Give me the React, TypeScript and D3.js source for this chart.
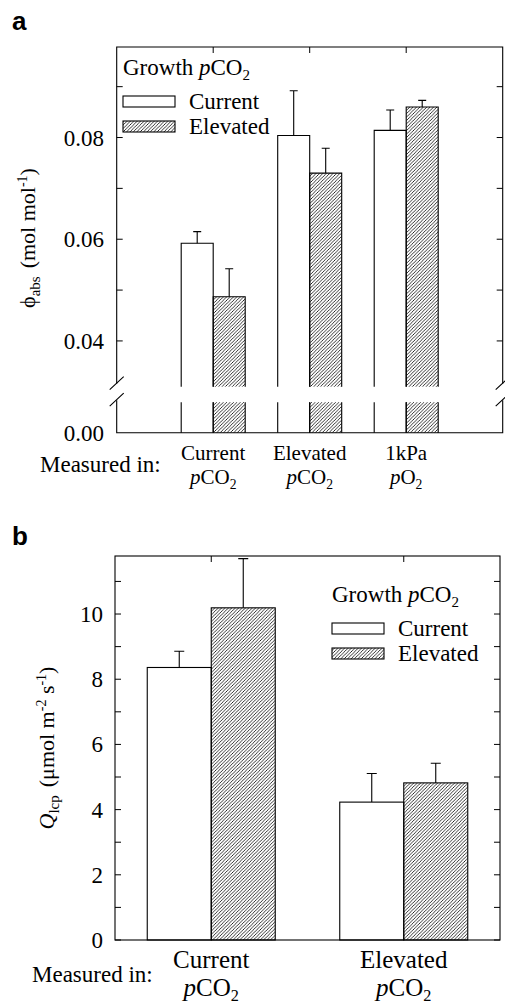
import React from "react";
import * as d3 from "d3";

// ---------- data ----------
const seriesNames = ["Current", "Elevated"];
const catLine1A = ["Current", "Elevated", "1kPa"];
const catGasA = ["CO", "CO", "O"];
const currentA = [0.0592, 0.0804, 0.0814];
const currentErrA = [0.0023, 0.0088, 0.004];
const elevatedA = [0.0487, 0.073, 0.086];
const elevatedErrA = [0.0055, 0.0049, 0.0013];
const ticksA = [0.04, 0.06, 0.08];
const minorTicksA = [0.05, 0.07, 0.09];

const catLine1B = ["Current", "Elevated"];
const catGasB = ["CO", "CO"];
const currentB = [8.36, 4.23];
const currentErrB = [0.5, 0.88];
const elevatedB = [10.19, 4.82];
const elevatedErrB = [1.51, 0.6];
const ticksB = [0, 2, 4, 6, 8, 10];
const minorTicksB = [1, 3, 5, 7, 9, 11];

const SERIF = "'Liberation Serif', 'Times New Roman', serif";
const SANS = "'Liberation Sans', Arial, sans-serif";

function Gas({ gas, x, y, size }: { gas: string; x: number; y: number; size: number }) {
  return (
    <text x={x} y={y} textAnchor="middle" fontSize={size} fontFamily={SERIF}>
      <tspan fontStyle="italic">p</tspan>
      <tspan>{gas}</tspan>
      <tspan dy={5} fontSize={size * 0.65}>2</tspan>
    </text>
  );
}

function Legend({ x, y }: { x: number; y: number }) {
  // y = baseline of title
  return (
    <g>
      <text x={x} y={y} fontSize={23} fontFamily={SERIF}>
        <tspan>Growth </tspan>
        <tspan fontStyle="italic">p</tspan>
        <tspan>CO</tspan>
        <tspan dy={5} fontSize={15}>2</tspan>
      </text>
      <rect x={x} y={y + 21} width={52} height={11} fill="white" stroke="black" strokeWidth={1.1} />
      <text x={x + 66} y={y + 34} fontSize={23} fontFamily={SERIF}>{seriesNames[0]}</text>
      <rect x={x} y={y + 46} width={52} height={11} fill="url(#hatch)" stroke="black" strokeWidth={1.1} />
      <text x={x + 66} y={y + 59} fontSize={23} fontFamily={SERIF}>{seriesNames[1]}</text>
    </g>
  );
}

function PanelA() {
  const left = 116.7, right = 502.7, top = 47, bottom = 432.7;
  const breakTop = 386.7, breakBot = 402.2;
  const x = d3.scaleLinear().domain([0, 4]).range([left, right]);
  const yU = d3.scaleLinear().domain([0.031, 0.0978]).range([breakTop, top]);
  const yL = d3.scaleLinear().domain([0, 0.006]).range([bottom, breakBot]);
  const bw = 32;
  const tick = 6;
  const bars: any[] = [];
  catLine1A.forEach((_, i) => {
    const c = x(i + 1);
    [
      { v: currentA[i], e: currentErrA[i], x0: c - bw, fill: "white" },
      { v: elevatedA[i], e: elevatedErrA[i], x0: c, fill: "url(#hatch)" },
    ].forEach((b, j) => {
      const yt = yU(b.v);
      const ye = yU(b.v + b.e);
      const cx = b.x0 + bw / 2;
      bars.push(
        <g key={`${i}-${j}`}>
          <rect x={b.x0} y={yt} width={bw} height={breakTop - yt} fill={b.fill} stroke="none" />
          <path d={`M${b.x0},${breakTop}V${yt}H${b.x0 + bw}V${breakTop}`} fill="none" stroke="black" strokeWidth={1.1} />
          <rect x={b.x0} y={breakBot} width={bw} height={bottom - breakBot} fill={b.fill} stroke="none" />
          <path d={`M${b.x0},${breakBot}V${bottom}M${b.x0 + bw},${breakBot}V${bottom}`} fill="none" stroke="black" strokeWidth={1.1} />
          <path d={`M${cx},${yt}V${ye}M${cx - 4},${ye}H${cx + 4}`} stroke="black" strokeWidth={1.1} />
        </g>
      );
    });
  });
  const slash = (ax: number, ay: number) => `M${ax - 7},${ay + 6}L${ax + 7},${ay - 7}`;
  return (
    <g>
      <text x={12} y={30} fontFamily={SANS} fontWeight="bold" fontSize={26}>a</text>
      {bars}
      {/* frame */}
      <path d={`M${left},${breakTop - 3}V${top}H${right}V${breakTop - 3}`} fill="none" stroke="black" strokeWidth={1.1} />
      <path d={`M${left},${breakBot - 2}V${bottom}H${right}V${breakBot - 2}`} fill="none" stroke="black" strokeWidth={1.1} />
      <path d={slash(left, breakTop - 3) + slash(left, breakBot - 2) + slash(right, breakTop - 3) + slash(right, breakBot - 2)} stroke="black" strokeWidth={1.1} fill="none" />
      {/* ticks */}
      {[...ticksA, ...minorTicksA].map((t) => (
        <path key={t} d={`M${left},${yU(t)}h${tick}M${right},${yU(t)}h${-tick}`} stroke="black" strokeWidth={1} />
      ))}
      {catLine1A.map((_, i) => (
        <path key={i} d={`M${x(i + 1)},${top}v${tick}`} stroke="black" strokeWidth={1} />
      ))}
      {ticksA.map((t) => (
        <text key={t} x={104} y={yU(t) + 8} textAnchor="end" fontSize={23} fontFamily={SERIF}>{t.toFixed(2)}</text>
      ))}
      <text x={104} y={yL(0) + 8} textAnchor="end" fontSize={23} fontFamily={SERIF}>0.00</text>
      {/* y label */}
      <text transform={`translate(35,238) rotate(-90)`} textAnchor="middle" fontSize={22} fontFamily={SERIF}>
        <tspan>ϕ</tspan>
        <tspan dy={5} fontSize={15}>abs</tspan>
        <tspan dy={-5} dx={8}>(mol mol</tspan>
        <tspan dy={-8} fontSize={14}>-1</tspan>
        <tspan dy={8}>)</tspan>
      </text>
      {/* x labels */}
      <text x={40} y={472} fontSize={23} fontFamily={SERIF}>Measured in:</text>
      {catLine1A.map((c, i) => (
        <text key={c} x={x(i + 1)} y={460} textAnchor="middle" fontSize={21} fontFamily={SERIF}>{c}</text>
      ))}
      {catGasA.map((g, i) => (
        <Gas key={i} gas={g} x={x(i + 1)} y={484} size={21} />
      ))}
      <Legend x={123} y={75} />
    </g>
  );
}

function PanelB() {
  const left = 115, right = 500, top = 556, bottom = 940;
  const x = d3.scaleLinear().domain([0, 4]).range([left, right]);
  const y = d3.scaleLinear().domain([0, 11.78]).range([bottom, top]);
  const bw = 64;
  const tick = 6;
  const bars: any[] = [];
  catLine1B.forEach((_, i) => {
    const c = x(2 * i + 1);
    [
      { v: currentB[i], e: currentErrB[i], x0: c - bw, fill: "white" },
      { v: elevatedB[i], e: elevatedErrB[i], x0: c, fill: "url(#hatch)" },
    ].forEach((b, j) => {
      const yt = y(b.v);
      const ye = y(b.v + b.e);
      const cx = b.x0 + bw / 2;
      bars.push(
        <g key={`${i}-${j}`}>
          <rect x={b.x0} y={yt} width={bw} height={bottom - yt} fill={b.fill} stroke="black" strokeWidth={1.1} />
          <path d={`M${cx},${yt}V${ye}M${cx - 5},${ye}H${cx + 5}`} stroke="black" strokeWidth={1.1} />
        </g>
      );
    });
  });
  return (
    <g>
      <text x={12} y={545} fontFamily={SANS} fontWeight="bold" fontSize={26}>b</text>
      {bars}
      <rect x={left} y={top} width={right - left} height={bottom - top} fill="none" stroke="black" strokeWidth={1.1} />
      {[...ticksB, ...minorTicksB].map((t) => (
        <path key={t} d={`M${left},${y(t)}h${tick}M${right},${y(t)}h${-tick}`} stroke="black" strokeWidth={1} />
      ))}
      {catLine1B.map((_, i) => (
        <path key={i} d={`M${x(2 * i + 1)},${top}v${tick}`} stroke="black" strokeWidth={1} />
      ))}
      {ticksB.map((t) => (
        <text key={t} x={103} y={y(t) + 8} textAnchor="end" fontSize={23} fontFamily={SERIF}>{t}</text>
      ))}
      <text transform={`translate(54,748) rotate(-90)`} textAnchor="middle" fontSize={22} fontFamily={SERIF}>
        <tspan fontStyle="italic">Q</tspan>
        <tspan dy={5} fontSize={15}>lcp</tspan>
        <tspan dy={-5} dx={8}>(μmol m</tspan>
        <tspan dy={-8} fontSize={14}>-2</tspan>
        <tspan dy={8}> s</tspan>
        <tspan dy={-8} fontSize={14}>-1</tspan>
        <tspan dy={8}>)</tspan>
      </text>
      <text x={32} y={982} fontSize={23} fontFamily={SERIF}>Measured in:</text>
      {catLine1B.map((c, i) => (
        <text key={c} x={x(2 * i + 1)} y={968} textAnchor="middle" fontSize={25} fontFamily={SERIF}>{c}</text>
      ))}
      {catGasB.map((g, i) => (
        <Gas key={i} gas={g} x={x(2 * i + 1)} y={996} size={25} />
      ))}
      <Legend x={332} y={602} />
    </g>
  );
}

export default function App() {
  return (
    <svg width={505} height={1005} style={{ position: "absolute", left: 0, top: 0, background: "white" }}>
      <defs>
        <pattern id="hatch" patternUnits="userSpaceOnUse" width={3.4} height={3.4}>
          <path d="M-1,1 l2,-2 M0,3.4 l3.4,-3.4 M2.4,4.4 l2,-2" stroke="black" strokeWidth={0.8} />
        </pattern>
      </defs>
      <rect width={505} height={1005} fill="white" />
      <PanelA />
      <PanelB />
    </svg>
  );
}
